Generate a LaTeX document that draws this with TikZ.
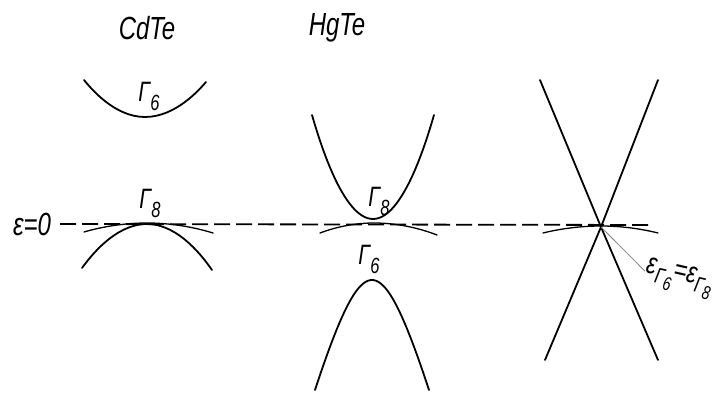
\documentclass[tikz,border=0pt]{standalone}
\usepackage{fontspec}
\newfontfamily\bandfont[FakeStretch=0.75]{Liberation Sans}
\usepackage{tikz}
\usetikzlibrary{positioning, calc}

% lowered index, nearly full size as in the drawing
\newcommand\gmsub[1]{Γ\raisebox{-0.32em}{\fontsize{22}{22}\selectfont #1}}
\newcommand\epsg[1]{ε\raisebox{-0.25em}{\fontsize{22}{22}\selectfont Γ\raisebox{-0.25em}{\fontsize{19}{19}\selectfont #1}}}

\begin{document}
\begin{tikzpicture}[
        x=1pt, y=-1pt,
        band/.style={line width=1.8pt, line cap=round},
        thinband/.style={line width=1.3pt, line cap=round},
        zeroline/.style={line width=1.8pt, dash pattern=on 16pt off 6pt},
        txt/.style={font=\bandfont\fontsize{32}{34}\selectfont\itshape, inner sep=1pt},
        gam/.style={font=\bandfont\fontsize{28}{30}\selectfont\itshape, inner sep=1pt}
    ]
    \useasboundingbox (0,0) rectangle (721,395);

    % headings
    \node[txt] (cdte) at (147,28) {CdTe};
    \node[txt] (hgte) at (337,28) {HgTe};

    % energy zero
    \node[txt] (zero) at (32,224) {ε=0};
    \coordinate (zeroend) at (652,225);
    \draw[zeroline] (zero.east) ++(8,0) -- (zeroend);

    % CdTe
    \draw[band] (84,80) parabola bend (145,117) (206,82);
    \node[gam] (c6) at (149,96) {\gmsub{6}};
    \draw[band] (82,268) parabola bend (147,224) (212,270);
    \draw[thinband] (84,232) parabola bend (147,223) (213,233);
    \node[gam] (c8) at (150,203) {\gmsub{8}};

    % HgTe
    \draw[band] (312,115) parabola bend (373,219) (434,115);
    \node[gam] (h8) at (379,201) {\gmsub{8}};
    \draw[thinband] (320,233) parabola bend (374,223) (437,235);
    \node[gam] (h6) at (369,259) {\gmsub{6}};
    \draw[band] plot[domain=-57:57, samples=61]
        ({372+\x}, {280+10*sqrt(0.1388*\x*\x+225)-150});

    % gapless
    \coordinate (cross) at (601,227);
    \draw[band] (540,80) -- (cross) -- (658,360);
    \draw[band] (658,80) -- (cross) -- (545,360);
    \draw[thinband] (543,233) parabola bend (601,226) (658,233);
    \node[gam, rotate=-13, font=\bandfont\fontsize{30}{32}\selectfont\itshape] (eq) at (679,279)
        {\epsg{6}=\epsg{8}};
    \draw[line width=0.8pt, gray] (cross) -- (eq.west);

\end{tikzpicture}
\end{document}
